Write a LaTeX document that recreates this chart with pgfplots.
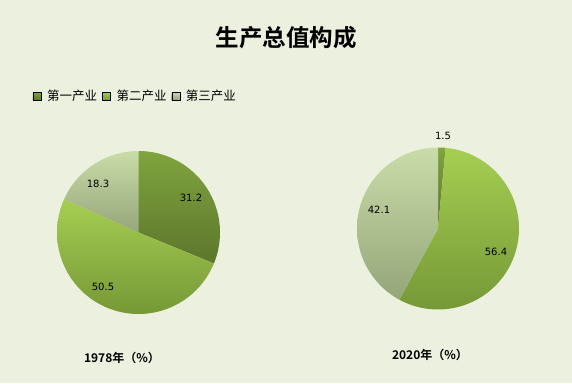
\documentclass[border=0pt]{standalone}
\usepackage{pgfplots}
\usepackage{pgfplotstable}
\pgfplotsset{compat=1.18}
\usepackage{fontspec}
\setmainfont{DejaVu Sans}
\newfontfamily\cjk{Noto Sans CJK SC}
\newfontfamily\cjkb{Noto Sans CJK SC Bold}

\definecolor{bg}{RGB}{235,241,222}
\definecolor{dtop}{RGB}{128,164,62}
\definecolor{dbot}{RGB}{92,118,44}
\definecolor{mtop}{RGB}{166,206,82}
\definecolor{mbot}{RGB}{118,152,54}
\definecolor{ltop}{RGB}{202,220,168}
\definecolor{lbot}{RGB}{148,166,122}

\pgfplotstableread{
a b
31.2 1.5
50.5 56.4
18.3 42.1
}\datatable

\pgfplotstablegetelem{0}{a}\of\datatable \let\Aa\pgfplotsretval
\pgfplotstablegetelem{1}{a}\of\datatable \let\Ab\pgfplotsretval
\pgfplotstablegetelem{0}{b}\of\datatable \let\Ba\pgfplotsretval
\pgfplotstablegetelem{1}{b}\of\datatable \let\Bb\pgfplotsretval
\pgfmathsetmacro\AoneE{3.6*\Aa}
\pgfmathsetmacro\AtwoE{3.6*(\Aa+\Ab)}
\pgfmathsetmacro\BoneE{3.6*\Ba}
\pgfmathsetmacro\BtwoE{3.6*(\Ba+\Bb)}

% cx, cy, r, start, end, style
\newcommand{\slice}[6]{%
\addplot[#6, draw=none, domain=#4:#5, samples=90, variable=\t, forget plot]
  ({#1+#3*sin(\t)},{#2-#3*cos(\t)}) -- (axis cs:#1,#2) -- cycle;}

\begin{document}
\begin{tikzpicture}
\begin{axis}[
  width=572pt, height=383pt, scale only axis,
  xmin=0, xmax=572, ymin=0, ymax=383, y dir=reverse,
  axis lines=none, ticks=none, clip=false,
  axis background/.style={fill=bg},
  legend style={at={(axis cs:32.5,96)}, anchor=west, draw=none, fill=none,
    font=\cjk\fontsize{12.5}{14}\selectfont, legend columns=3,
    inner sep=0pt,
    /tikz/every odd column/.append style={column sep=4pt},
    /tikz/every even column/.append style={column sep=3pt}},
  legend image code/.code={\fill[#1] (0pt,-4pt) rectangle (8pt,4pt);},
]
% legend entries
\addlegendimage{top color=dtop, bottom color=dbot, shade}
\addlegendentry{第一产业}
\addlegendimage{top color=mtop, bottom color=mbot, shade}
\addlegendentry{第二产业}
\addlegendimage{top color=ltop, bottom color=lbot, shade}
\addlegendentry{第三产业}

% 1978 pie
\slice{138.5}{232.5}{81.5}{0}{\AoneE}{shade, top color=dtop, bottom color=dbot}
\slice{138.5}{232.5}{81.5}{\AoneE}{\AtwoE}{shade, top color=mtop, bottom color=mbot}
\slice{138.5}{232.5}{81.5}{\AtwoE}{360}{shade, top color=ltop, bottom color=lbot}

% 2020 pie
\slice{438}{228.5}{81}{0}{\BoneE}{shade, top color=dtop, bottom color=dbot}
\slice{438}{228.5}{81}{\BoneE}{\BtwoE}{shade, top color=mtop, bottom color=mbot}
\slice{438}{228.5}{81}{\BtwoE}{360}{shade, top color=ltop, bottom color=lbot}

% value labels
\begingroup
\tikzset{every node/.style={font=\fontsize{11}{13}\selectfont, text=black}}
\node at (axis cs:191,198) {31.2};
\node at (axis cs:98,184) {18.3};
\node at (axis cs:103,287) {50.5};
\node at (axis cs:443,136) {1.5};
\node at (axis cs:379,210) {42.1};
\node at (axis cs:496,252) {56.4};
\endgroup

% title and captions
\node at (axis cs:286,38) {\cjkb\fontsize{23.5}{26}\selectfont 生产总值构成};
\node at (axis cs:122,358) {\cjkb\fontsize{12}{14}\selectfont 1978年（\%）};
\node at (axis cs:430,355) {\cjkb\fontsize{12}{14}\selectfont 2020年（\%）};
\end{axis}
\end{tikzpicture}
\end{document}
